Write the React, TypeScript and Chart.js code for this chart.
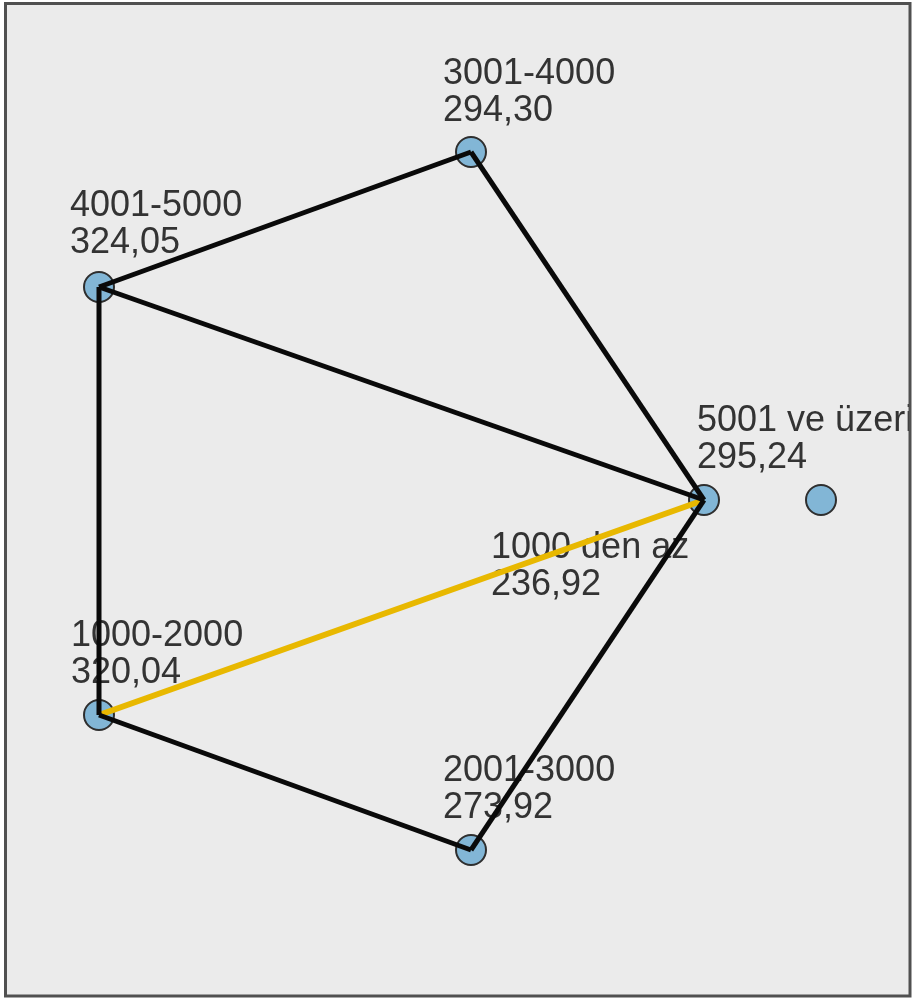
import React, { useEffect, useRef } from "react";
import { Chart, registerables } from "chart.js";

Chart.register(...registerables);

// Groups (nodes) and their mean ranks
const categories = ["1000 den az", "1000-2000", "2001-3000", "3001-4000", "4001-5000", "5001 ve üzeri"];
const meanRanks = [236.92, 320.04, 273.92, 294.3, 324.05, 295.24];

// Network layout (layout units on the chart's own scales)
const nodeX = [821, 99, 471, 471, 99, 704];
const nodeY = [500, 715, 850, 152, 287, 500];
const labelX = [491, 71, 443, 443, 70, 697];
const labelY = [558, 646, 781, 84, 216, 431];

// Pairwise comparisons drawn as edges
const edgeFrom = [3, 3, 4, 4, 1, 1, 2];
const edgeTo = [4, 5, 5, 1, 5, 2, 5];
const edgeHighlighted = [false, false, false, false, true, false, false];

const W = 913;
const H = 1001;
const FONT = '36px "Liberation Sans", Arial, sans-serif';

const fmt = (v: number) => v.toFixed(2).replace(".", ",");

export default function App() {
  const ref = useRef<HTMLCanvasElement | null>(null);

  useEffect(() => {
    if (!ref.current) return;

    const edgeSets = edgeFrom.map((f, i) => ({
      type: "line" as const,
      data: [
        { x: nodeX[f], y: nodeY[f] },
        { x: nodeX[edgeTo[i]], y: nodeY[edgeTo[i]] },
      ],
      borderColor: edgeHighlighted[i] ? "#E8B800" : "#0a0a0a",
      borderWidth: edgeHighlighted[i] ? 6 : 5,
      pointRadius: 0,
      showLine: true,
      fill: false,
      order: edgeHighlighted[i] ? 2 : 1,
      clip: false as any,
    }));

    const panelPlugin = {
      id: "panel",
      beforeDraw(chart: any) {
        const ctx = chart.ctx;
        ctx.save();
        ctx.fillStyle = "#ffffff";
        ctx.fillRect(0, 0, W, H);
        ctx.fillStyle = "#EBEBEB";
        ctx.fillRect(5, 3, 905, 993);
        ctx.restore();
      },
      beforeDatasetsDraw(chart: any) {
        const ctx = chart.ctx;
        const xs = chart.scales.x;
        const ys = chart.scales.y;
        ctx.save();
        ctx.beginPath();
        ctx.rect(7, 5, 903, 989);
        ctx.clip();
        ctx.font = FONT;
        ctx.fillStyle = "#333333";
        ctx.textAlign = "left";
        ctx.textBaseline = "alphabetic";
        categories.forEach((c, i) => {
          const px = xs.getPixelForValue(labelX[i]);
          const py = ys.getPixelForValue(labelY[i]);
          ctx.fillText(c, px, py);
          ctx.fillText(fmt(meanRanks[i]), px, py + 37);
        });
        ctx.restore();
      },
      afterDraw(chart: any) {
        const ctx = chart.ctx;
        ctx.save();
        ctx.strokeStyle = "#505050";
        ctx.lineWidth = 3;
        ctx.strokeRect(5.5, 3.5, 904.5, 992.5);
        ctx.restore();
      },
    };

    const chart = new Chart(ref.current, {
      type: "scatter",
      data: {
        datasets: [
          ...edgeSets,
          {
            type: "scatter" as const,
            data: categories.map((_, i) => ({ x: nodeX[i], y: nodeY[i] })),
            backgroundColor: "#82B6D6",
            borderColor: "#2e2e2e",
            borderWidth: 2,
            pointRadius: 15,
            pointHoverRadius: 15,
            order: 10,
            clip: false as any,
          },
        ] as any,
      },
      options: {
        animation: false,
        responsive: false,
        devicePixelRatio: 1,
        events: [],
        layout: { padding: 0, autoPadding: false },
        plugins: {
          legend: { display: false },
          tooltip: { enabled: false },
        },
        scales: {
          x: { type: "linear", min: 0, max: W, display: false },
          y: { type: "linear", min: 0, max: H, reverse: true, display: false },
        },
      },
      plugins: [panelPlugin],
    });

    return () => chart.destroy();
  }, []);

  return (
    <div style={{ position: "absolute", left: 0, top: 0, width: W, height: H }}>
      <canvas ref={ref} width={W} height={H} style={{ display: "block" }} />
    </div>
  );
}
